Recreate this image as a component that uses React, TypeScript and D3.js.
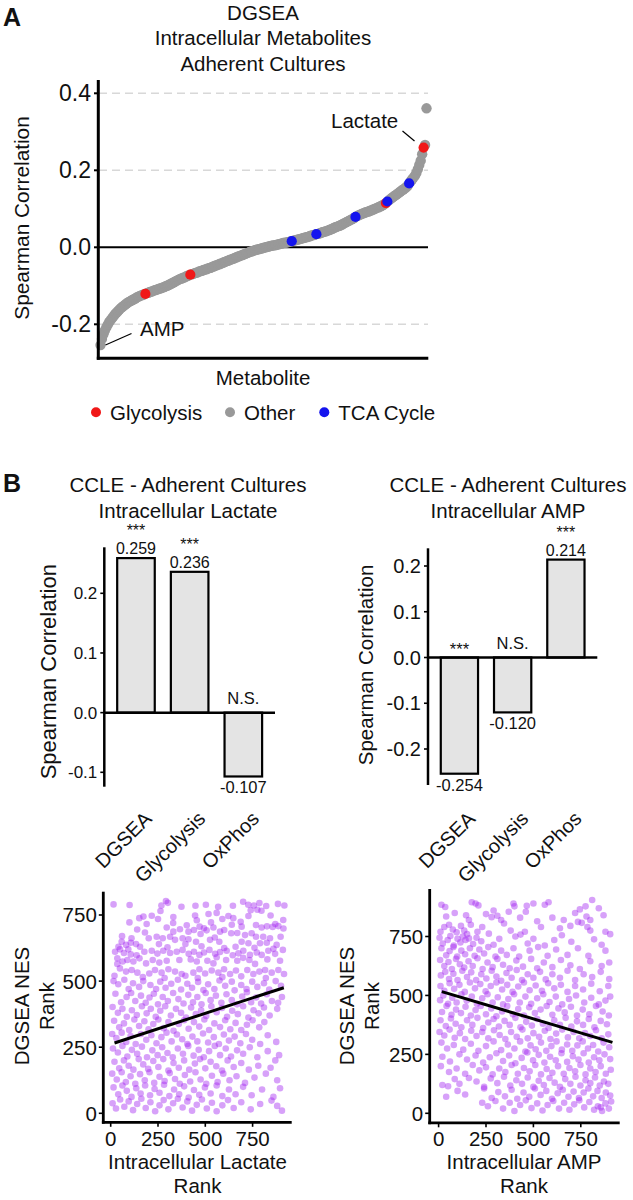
import React from 'react';
import * as d3 from 'd3';

const FONT = '"Liberation Sans", Arial, Helvetica, sans-serif';

// ---------- Panel A data ----------
const metaboliteCorr = [
  -0.254,-0.238,-0.226,-0.216,-0.208,-0.201,-0.194,-0.189,-0.184,-0.179,
  -0.174,-0.170,-0.166,-0.162,-0.158,-0.155,-0.152,-0.149,-0.146,-0.143,
  -0.141,-0.139,-0.137,-0.135,-0.133,-0.130,-0.128,-0.127,-0.125,-0.124,
  -0.122,-0.121,-0.119,-0.118,-0.116,-0.115,-0.114,-0.112,-0.111,-0.110,
  -0.108,-0.107,-0.106,-0.104,-0.103,-0.101,-0.100,-0.098,-0.096,-0.094,
  -0.092,-0.090,-0.088,-0.086,-0.084,-0.082,-0.081,-0.079,-0.078,-0.076,
  -0.074,-0.073,-0.071,-0.070,-0.069,-0.067,-0.066,-0.065,-0.063,-0.062,
  -0.061,-0.059,-0.058,-0.057,-0.055,-0.054,-0.053,-0.051,-0.050,-0.048,
  -0.047,-0.045,-0.044,-0.042,-0.041,-0.039,-0.038,-0.036,-0.035,-0.033,
  -0.032,-0.030,-0.029,-0.027,-0.026,-0.024,-0.023,-0.021,-0.020,-0.018,
  -0.017,-0.015,-0.014,-0.012,-0.011,-0.010,-0.008,-0.007,-0.006,-0.005,
  -0.004,-0.003,-0.002,-0.001,0.000,0.001,0.002,0.003,0.004,0.005,
  0.005,0.006,0.007,0.008,0.009,0.010,0.011,0.012,0.012,0.013,
  0.014,0.015,0.016,0.017,0.018,0.019,0.020,0.021,0.022,0.023,
  0.024,0.025,0.026,0.027,0.028,0.030,0.031,0.032,0.033,0.034,
  0.035,0.036,0.037,0.039,0.040,0.041,0.042,0.044,0.045,0.047,
  0.048,0.050,0.052,0.053,0.055,0.056,0.058,0.060,0.062,0.064,
  0.066,0.068,0.070,0.072,0.074,0.076,0.079,0.081,0.083,0.085,
  0.086,0.088,0.089,0.091,0.092,0.093,0.095,0.096,0.098,0.099,
  0.101,0.103,0.104,0.106,0.108,0.110,0.112,0.115,0.119,0.122,
  0.125,0.128,0.131,0.134,0.136,0.139,0.142,0.145,0.148,0.150,
  0.153,0.156,0.160,0.166,0.171,0.176,0.181,0.186,0.193,0.203,
  0.214,0.225,0.242,0.259,0.266,0.361,
];
const glycolysisIdx = [31, 62, 197, 223];
const tcaIdx = [132, 149, 176, 198, 213];
const panelATicks = [-0.2, 0.0, 0.2, 0.4];
const panelAGrid = [-0.2, 0.2, 0.4];
const legendLabels = ['Glycolysis', 'Other', 'TCA Cycle'];
const legendColors = ['#f01818', '#999999', '#1414ee'];

// ---------- Panel B bar data ----------
const barCategories = ['DGSEA', 'Glycolysis', 'OxPhos'];
const lactateCorr = [0.259, 0.236, -0.107];
const lactateSig = ['***', '***', 'N.S.'];
const ampCorr = [-0.254, -0.120, 0.214];
const ampSig = ['***', 'N.S.', '***'];
const lactateTicks = [-0.1, 0.0, 0.1, 0.2];
const ampTicks = [-0.2, -0.1, 0.0, 0.1, 0.2];

// ---------- Panel B scatter data (rank, rank) ----------
const lactateScatter = [
  [15,790],[100,788],[268,786],[292,803],[302,796],[374,781],[448,785],[503,789],[568,781],[646,785],[700,800],[727,789],[757,786],[786,795],[822,784],[884,792],[918,786],[263,765],[775,770],[740,768],[797,766],
  [331,742],[217,747],[173,744],[151,738],[446,748],[517,754],[622,746],[648,738],[728,746],[912,731],[99,722],[402,711],[640,713],[768,712],[455,730],[530,722],[590,735],[687,724],[845,748],[870,716],[560,758],[330,720],[190,716],[250,735],
  [493,700],[543,703],[507,692],[692,706],[798,703],[826,707],[856,705],[886,708],[913,699],[296,703],[366,696],[331,687],[411,687],[440,693],[475,678],[578,687],[600,693],[637,681],[669,682],[710,674],[745,681],[181,684],[201,662],[243,668],[275,662],[314,668],[380,662],[768,668],[806,668],[842,662],[898,668],[110,662],[60,670],[140,695],[550,665],[470,706],
  [340,656],[411,658],[451,649],[525,656],[574,649],[692,649],[728,643],[789,643],[825,645],[877,637],[58,649],[81,637],[106,645],[134,640],[41,630],[155,630],[49,620],[93,620],[23,611],[178,611],[217,615],[278,615],[349,611],[380,618],[440,611],[522,618],[613,615],[701,615],[833,615],[910,618],[255,640],[300,628],[480,632],[600,625],[660,630],[760,626],[860,622],[395,640],
  [70,606],[106,601],[137,598],[247,604],[314,606],[412,603],[469,599],[493,608],[552,603],[578,610],[645,598],[675,605],[736,599],[772,608],[798,599],[869,603],[35,586],[63,574],[35,565],[88,580],[120,574],[152,586],[187,567],[222,580],[257,570],[296,577],[363,580],[423,582],[455,574],[511,577],[543,567],[610,580],[669,577],[733,580],[828,582],[895,577],[763,565],[560,590],[700,588],
  [49,548],[81,536],[111,542],[141,532],[204,529],[234,542],[269,532],[305,545],[340,536],[375,527],[437,532],[469,545],[499,529],[534,540],[569,532],[599,545],[631,527],[662,540],[722,542],[754,527],[786,536],[816,542],[851,532],[886,542],[916,527],[20,520],[170,515],[395,520],[460,512],[590,515],[820,512],[690,518],[285,512],
  [15,500],[40,488],[72,505],[95,470],[118,492],[150,478],[172,500],[210,485],[240,470],[262,498],[290,475],[320,490],[355,505],[372,468],[405,490],[430,475],[462,497],[490,466],[515,488],[548,470],[575,502],[605,482],[640,498],[655,465],[690,485],[718,470],[748,498],[775,478],[810,492],[838,468],[872,500],[900,482],
  [25,452],[55,420],[84,440],[108,455],[130,425],[160,445],[185,418],[205,438],[228,452],[250,412],[275,440],[302,425],[330,455],[358,432],[385,415],[410,448],[435,420],[458,440],[480,412],[502,455],[528,428],[556,445],[585,418],[612,450],[640,428],[668,412],[695,442],[720,458],[742,420],[768,438],[795,415],[825,450],[852,425],[885,418],[905,440],
  [10,402],[38,380],[62,395],[85,365],[112,390],[138,372],[165,405],[190,378],[212,395],[238,365],[262,388],[288,405],[318,370],[345,395],[372,380],[398,362],[425,400],[450,375],[478,390],[505,368],[532,405],[560,382],[588,398],[615,365],[642,388],[672,375],[700,405],[728,362],[755,390],[782,378],[810,400],[840,370],[880,395],
  [18,350],[45,325],[70,340],[98,315],[125,355],[150,330],[178,348],[200,318],[225,338],[252,355],[280,322],[305,345],[332,312],[360,338],[388,352],[412,320],[440,345],[468,328],[495,355],[520,315],[548,340],[578,326],[605,352],[632,318],[660,342],[690,315],[720,335],[750,352],[785,325],[812,345],
  [8,300],[30,285],[58,305],[82,270],[105,292],[132,262],[160,300],[188,278],[215,295],[242,265],[268,288],[295,305],[322,272],[350,298],[378,280],[405,262],[432,290],[458,272],[488,302],[515,268],[545,288],[572,262],[598,298],[625,275],[655,290],[685,265],[715,300],[748,278],[790,262],[830,295],[875,270],
  [12,245],[38,230],[62,255],[88,215],[112,240],[140,225],[165,252],[192,212],[220,238],[248,220],[272,250],[300,228],[328,212],[355,245],[382,225],[410,255],[438,218],[465,240],[492,212],[520,235],[550,255],[578,220],[608,245],[636,215],[668,238],[700,225],[735,250],[775,212],[830,235],[890,220],
  [20,195],[45,170],[70,200],[95,180],[120,165],[148,205],[172,185],[198,168],[225,198],[252,175],[278,205],[305,162],[332,190],[360,172],[388,200],[415,165],[445,188],[472,205],[500,170],[528,195],[558,178],[588,162],[618,200],[650,175],[690,190],[730,165],[780,180],[845,172],[870,200],
  [8,150],[32,128],[58,155],[80,118],[105,140],[130,112],[155,148],[180,125],[205,155],[230,115],[258,138],[285,122],[312,152],[340,130],[365,112],[392,145],[420,120],[448,155],[475,128],[505,112],[535,142],[565,118],[595,150],[628,125],[665,140],[710,115],[760,135],[820,150],[880,125],
  [15,98],[40,72],[62,105],[85,85],[110,62],[135,95],[158,75],[182,105],[208,68],[232,92],[258,78],[282,108],[310,65],[335,90],[362,72],[388,102],[412,60],[440,88],[468,70],[498,98],[528,75],[560,105],[590,65],[625,90],[660,72],[700,100],[745,68],[800,90],[860,62],[895,95],
  [10,38],[28,18],[50,52],[72,25],[95,45],[118,12],[140,35],[162,55],[185,20],[210,42],[235,8],[258,30],[280,50],[305,15],[330,38],[355,55],[380,22],[405,45],[430,10],[455,32],[482,52],[508,18],[535,40],[560,8],[590,30],[620,50],[650,20],[690,42],[740,15],[790,35],[850,48],[905,10],[880,28],
];
const ampScatter = [
  [15,885],[35,875],[175,895],[195,890],[210,882],[395,890],[400,878],[465,880],[500,890],[560,885],[580,895],[745,865],[775,878],[810,905],[845,870],[290,860],
  [40,835],[85,850],[145,840],[160,820],[250,845],[280,832],[310,838],[330,820],[370,855],[430,830],[460,855],[520,815],[600,830],[660,820],[720,850],[735,812],[780,835],[800,820],[870,840],
  [10,770],[30,790],[55,800],[75,780],[95,768],[118,795],[135,775],[150,760],[170,800],[205,770],[230,790],[265,762],[345,805],[380,775],[455,770],[540,790],[640,785],[695,795],[755,808],[785,790],[800,775],[880,770],[905,760],
  [5,745],[22,720],[48,735],[62,752],[80,712],[100,740],[115,725],[128,750],[142,735],[160,742],[182,718],[200,745],[225,730],[290,715],[320,740],[405,750],[432,758],[470,720],[500,740],[560,712],[610,735],[650,755],[700,728],[820,738],[860,715],
  [15,700],[40,670],[58,688],[78,705],[98,665],[120,690],[140,675],[165,700],[190,668],[215,695],[240,678],[262,705],[300,665],[330,690],[360,672],[395,700],[425,665],[480,690],[525,705],[575,668],[620,695],[680,672],[735,700],[790,668],[880,690],
  [8,650],[30,625],[52,642],[70,612],[92,655],[112,632],[135,618],[158,645],[180,625],[205,658],[232,612],[258,640],[285,620],[310,655],[340,630],[375,615],[410,648],[445,622],[488,655],[520,615],[555,640],[600,620],[645,650],[695,628],[745,612],[800,645],[860,625],[900,640],
  [12,585],[35,600],[55,570],[78,592],[100,565],[125,605],[150,578],[172,598],[198,565],[225,590],[252,572],[280,605],[305,580],[330,562],[358,595],[385,575],[412,608],[440,565],[470,590],[500,575],[535,600],[565,568],[600,590],[640,575],[680,605],[720,565],[765,590],[810,578],[855,600],[900,570],
  [10,540],[30,520],[58,552],[82,528],[110,545],[138,515],[165,555],[192,530],[220,548],[248,518],[275,540],[305,555],[335,525],[362,545],[390,515],[420,538],[450,555],[480,522],[512,542],[545,520],[578,552],[610,530],[645,545],[680,515],[720,540],[762,525],[805,550],[850,518],[895,540],
  [8,480],[25,500],[50,465],[72,490],[95,470],[120,505],[148,478],[175,495],[202,465],[230,488],[258,505],[285,470],[312,492],[340,462],[368,485],[398,505],[428,470],[458,495],[488,465],[520,488],[552,505],[585,472],[618,495],[652,462],[688,485],[725,500],[768,470],[805,490],[845,462],[880,478],[905,495],
  [18,430],[42,455],[68,418],[92,440],[118,425],[142,452],[170,415],[195,438],[222,455],[250,420],[278,445],[305,412],[335,432],[362,455],[392,420],[420,442],[450,415],[478,450],[508,425],[538,440],[570,455],[600,418],[632,445],[665,428],[698,452],[730,415],[760,440],[795,420],[830,455],[865,432],[898,415],
  [10,395],[38,370],[65,402],[90,380],[120,365],[150,395],[178,375],[205,405],[235,362],[262,385],[290,400],[318,368],[348,392],[375,375],[405,405],[432,365],[462,388],[492,372],[520,400],[550,380],[580,362],[610,395],[640,375],[670,405],[700,368],[730,390],[762,375],[792,400],[822,365],[855,392],[888,378],
  [5,345],[30,330],[58,355],[85,320],[112,340],[140,315],[172,350],[200,328],[230,345],[262,318],[292,352],[322,332],[352,315],[382,345],[412,325],[442,355],[470,318],[500,340],[530,325],[560,350],[590,315],[620,338],[652,355],[682,322],[712,345],[742,318],[772,340],[800,328],[830,352],[860,318],[895,335],
  [15,300],[45,275],[80,290],[130,270],[170,295],[210,265],[250,285],[290,305],[330,268],[365,292],[400,275],[430,305],[458,262],[485,288],[512,272],[540,300],[568,265],[595,285],[622,305],[650,270],[678,292],[705,265],[732,288],[760,305],[788,275],[815,290],[842,262],[870,300],[900,280],
  [20,240],[60,220],[110,250],[150,228],[195,245],[235,215],[270,238],[305,255],[340,222],[372,245],[405,212],[438,235],[468,258],[498,225],[528,248],[558,215],[588,240],[618,225],[648,255],[678,218],[708,242],[738,228],[765,255],[792,215],[820,238],[848,225],[875,250],[905,230],
  [12,200],[55,175],[95,190],[140,168],[180,205],[215,182],[250,195],[285,165],[320,190],[352,175],[385,205],[418,168],[450,192],[480,178],[510,205],[540,165],[570,188],[600,172],[630,200],[660,168],[690,192],[720,178],[748,205],[775,165],[800,190],[828,175],[855,200],[882,168],[908,185],
  [20,120],[50,115],[85,145],[110,125],[160,150],[200,135],[240,112],[275,148],[310,128],[345,155],[378,118],[410,140],[440,125],[470,152],[500,112],[528,138],[555,120],[585,150],[612,130],[640,112],[668,145],[695,125],[722,155],[748,118],[775,140],[800,128],[825,152],[850,118],[872,135],[895,125],
  [40,70],[100,95],[140,80],[240,105],[280,65],[315,90],[350,72],[385,100],[415,62],[448,88],[478,70],[508,105],[538,78],[568,95],[598,62],[628,85],[655,100],[685,70],[712,92],[740,65],[765,88],[790,105],[815,72],[838,95],[860,65],[882,88],[905,75],
  [230,45],[260,30],[300,52],[340,20],[375,45],[400,10],[430,35],[460,55],[490,22],[520,42],[548,12],[575,35],[605,52],[635,20],[662,45],[690,15],[715,38],[742,55],[768,25],[795,48],[820,15],[840,30],[862,10],[880,42],[898,20],[910,50],[855,25],
];
const lactateFit = [[20, 266], [915, 475]];
const ampFit = [[17, 516], [917, 301]];
const rankTicks = [0, 250, 500, 750];

type TP = { x: number; y: number; s: number; a?: string; r?: number; w?: string; children: React.ReactNode };
const T = ({ x, y, s, a = 'start', r = 0, w = 'normal', children }: TP) => (
  <text
    transform={`translate(${x},${y})${r ? ` rotate(${r})` : ''}`}
    fontSize={s}
    textAnchor={a}
    fontWeight={w}
    fontFamily={FONT}
    fill="#111"
  >
    {children}
  </text>
);

const fmt1 = (v: number) => v.toFixed(1);

function PanelA() {
  const x = d3.scaleLinear().domain([0, metaboliteCorr.length - 1]).range([100.5, 426.5]);
  const y = d3.scaleLinear().domain([-0.2, 0.4]).range([324.3, 93.3]);
  const colorOf = (i: number) =>
    glycolysisIdx.includes(i) ? legendColors[0] : tcaIdx.includes(i) ? legendColors[2] : legendColors[1];
  const highlighted = [...glycolysisIdx, ...tcaIdx];
  return (
    <g>
      <T x={3} y={25.5} s={25} w="bold">A</T>
      <T x={263} y={19.5} s={20.5} a="middle">DGSEA</T>
      <T x={263} y={45} s={20.5} a="middle">Intracellular Metabolites</T>
      <T x={263} y={71} s={20.5} a="middle">Adherent Cultures</T>
      {panelAGrid.map((t) => (
        <line key={t} x1={99} x2={428} y1={y(t)} y2={y(t)} stroke="#d8d8d8" strokeWidth={1.4} strokeDasharray="8,5" />
      ))}
      <line x1={99} x2={428} y1={y(0)} y2={y(0)} stroke="#000" strokeWidth={2} />
      {metaboliteCorr.map((v, i) =>
        highlighted.includes(i) ? null : <circle key={i} cx={x(i)} cy={y(v)} r={5.2} fill={legendColors[1]} />
      )}
      {highlighted.map((i) => (
        <circle key={'h' + i} cx={x(i)} cy={y(metaboliteCorr[i])} r={5.1} fill={colorOf(i)} />
      ))}
      <line x1={98.3} x2={98.3} y1={80} y2={359.8} stroke="#000" strokeWidth={3} />
      <line x1={96.8} x2={428.3} y1={358.3} y2={358.3} stroke="#000" strokeWidth={3} />
      {panelATicks.map((t) => (
        <g key={t}>
          <line x1={94} x2={98} y1={y(t)} y2={y(t)} stroke="#000" strokeWidth={2} />
          <T x={91} y={y(t) + 8} s={23} a="end">{fmt1(t)}</T>
        </g>
      ))}
      <T x={29} y={218} s={20.8} a="middle" r={-90}>Spearman Correlation</T>
      <T x={263} y={385} s={20.5} a="middle">Metabolite</T>
      <T x={331} y={128.3} s={20.5}>Lactate</T>
      <line x1={402.5} y1={131} x2={414.5} y2={141} stroke="#000" strokeWidth={1.2} />
      <T x={140} y={336} s={20.5}>AMP</T>
      <line x1={131.5} y1={333.5} x2={105.5} y2={345} stroke="#000" strokeWidth={1.2} />
      {legendLabels.map((lab, k) => {
        const cx = [96, 230, 324.3][k];
        return (
          <g key={lab}>
            <circle cx={cx} cy={412.3} r={5} fill={legendColors[k]} />
            <T x={cx + 14} y={419.6} s={20.5}>{lab}</T>
          </g>
        );
      })}
    </g>
  );
}

type BarProps = {
  values: number[]; sig: string[]; ticks: number[]; domain: [number, number]; yRange: [number, number];
  xRange: [number, number]; axisTop: number; axisBottom: number; tickFont: number; labFont: number;
  labX: number; labY: number; title2: string; titleX: number;
};

function BarChart(p: BarProps) {
  const x = d3.scaleBand<string>().domain(barCategories).range(p.xRange).paddingInner(0.3).paddingOuter(0.24);
  const y = d3.scaleLinear().domain(p.domain).range(p.yRange);
  const ax = p.xRange[0];
  const y0 = y(0);
  return (
    <g>
      <T x={p.titleX} y={491.7} s={20.5} a="middle">CCLE - Adherent Cultures</T>
      <T x={p.titleX} y={517.7} s={20.5} a="middle">{p.title2}</T>
      {p.values.map((v, i) => {
        const c = barCategories[i];
        const bx = x(c) as number;
        const top = Math.min(y(v), y0);
        const h = Math.abs(y(v) - y0);
        const cx = bx + x.bandwidth() / 2;
        return (
          <g key={c}>
            <rect x={bx} y={top} width={x.bandwidth()} height={h} fill="#e4e4e4" stroke="#000" strokeWidth={2.2} />
            {v >= 0 ? (
              <>
                <T x={cx} y={y(v) - 3.6} s={16} a="middle">{v.toFixed(3)}</T>
                <T x={cx} y={y(v) - 21.8} s={16} a="middle">{p.sig[i]}</T>
              </>
            ) : (
              <>
                <T x={cx} y={p.sig[i] === '***' ? y0 - 3 : y0 - 9} s={16.5} a="middle">{p.sig[i]}</T>
                <T x={cx} y={y(v) + 17} s={16.5} a="middle">{v.toFixed(3)}</T>
              </>
            )}
            <T x={cx + 17} y={820} s={20} a="end" r={-45}>{c}</T>
          </g>
        );
      })}
      <line x1={ax} x2={p.xRange[1]} y1={y0} y2={y0} stroke="#000" strokeWidth={2.5} />
      <line x1={ax} x2={ax} y1={p.axisTop} y2={p.axisBottom} stroke="#000" strokeWidth={2.5} />
      {p.ticks.map((t) => (
        <g key={t}>
          <line x1={ax - 4} x2={ax} y1={y(t)} y2={y(t)} stroke="#000" strokeWidth={1.6} />
          <T x={ax - 7} y={y(t) + p.tickFont * 0.36} s={p.tickFont} a="end">{fmt1(t)}</T>
        </g>
      ))}
      <T x={p.labX} y={p.labY} s={p.labFont} a="middle" r={-90}>Spearman Correlation</T>
    </g>
  );
}

type ScProps = {
  pts: number[][]; fit: number[][]; xRange: [number, number]; yRange: [number, number];
  axisX: number; axisY: number; axisTop: number; axisRight: number; xlab: string; xlabX: number; ylabX: number;
};

function Scatter(p: ScProps) {
  const x = d3.scaleLinear().domain([0, 750]).range(p.xRange);
  const y = d3.scaleLinear().domain([0, 750]).range(p.yRange);
  const line = d3.line<number[]>().x((d) => x(d[0])).y((d) => y(d[1]));
  return (
    <g>
      {p.pts.map((d, i) => (
        <circle key={i} cx={x(d[0])} cy={y(d[1])} r={3.3} fill="#a020f0" fillOpacity={0.42} />
      ))}
      <path d={line(p.fit) || ''} stroke="#000" strokeWidth={3} fill="none" />
      <line x1={p.axisX} x2={p.axisX} y1={p.axisTop} y2={p.axisY + 1.4} stroke="#000" strokeWidth={2.8} />
      <line x1={p.axisX - 1.4} x2={p.axisRight} y1={p.axisY} y2={p.axisY} stroke="#000" strokeWidth={2.8} />
      {rankTicks.map((t) => (
        <g key={t}>
          <line x1={p.axisX - 4.5} x2={p.axisX} y1={y(t)} y2={y(t)} stroke="#000" strokeWidth={1.6} />
          <T x={p.axisX - 6.5} y={y(t) + 7.4} s={20.5} a="end">{String(t)}</T>
          <line x1={x(t)} x2={x(t)} y1={p.axisY} y2={p.axisY + 4.5} stroke="#000" strokeWidth={1.6} />
          <T x={x(t)} y={p.axisY + 23.3} s={20.5} a="middle">{String(t)}</T>
        </g>
      ))}
      <T x={p.xlabX} y={p.axisY + 46.5} s={20.5} a="middle">{p.xlab}</T>
      <T x={p.xlabX} y={p.axisY + 70.5} s={20.5} a="middle">Rank</T>
      <T x={p.ylabX} y={1006} s={20.5} a="middle" r={-90}>DGSEA NES</T>
      <T x={p.ylabX + 25.5} y={1006} s={20.5} a="middle" r={-90}>Rank</T>
    </g>
  );
}

export default function App() {
  return (
    <svg
      width={633}
      height={1200}
      viewBox="0 0 633 1200"
      style={{ position: 'absolute', left: 0, top: 0, background: '#fff' }}
    >
      <rect x={0} y={0} width={633} height={1200} fill="#fff" />
      <PanelA />
      <T x={3} y={492} s={25} w="bold">B</T>
      <BarChart
        values={lactateCorr} sig={lactateSig} ticks={lactateTicks} domain={[-0.1, 0.2]} yRange={[772.3, 593.3]}
        xRange={[104.3, 275]} axisTop={547.3} axisBottom={786.7} tickFont={17} labFont={22}
        labX={55.5} labY={671.7} title2="Intracellular Lactate" titleX={188}
      />
      <BarChart
        values={ampCorr} sig={ampSig} ticks={ampTicks} domain={[-0.2, 0.2]} yRange={[749, 566]}
        xRange={[428, 597.3]} axisTop={548.3} axisBottom={785} tickFont={20} labFont={20.5}
        labX={373} labY={665} title2="Intracellular AMP" titleX={508}
      />
      <Scatter
        pts={lactateScatter} fit={lactateFit} xRange={[110.7, 252.6]} yRange={[1113.3, 915]}
        axisX={103.3} axisY={1122.3} axisTop={891.7} axisRight={291.7}
        xlab="Intracellular Lactate" xlabX={197.5} ylabX={28.5}
      />
      <Scatter
        pts={ampScatter} fit={ampFit} xRange={[438.6, 580.8]} yRange={[1113.3, 936.5]}
        axisX={429.7} axisY={1122.8} axisTop={889} axisRight={619.7}
        xlab="Intracellular AMP" xlabX={524} ylabX={353.5}
      />
    </svg>
  );
}
